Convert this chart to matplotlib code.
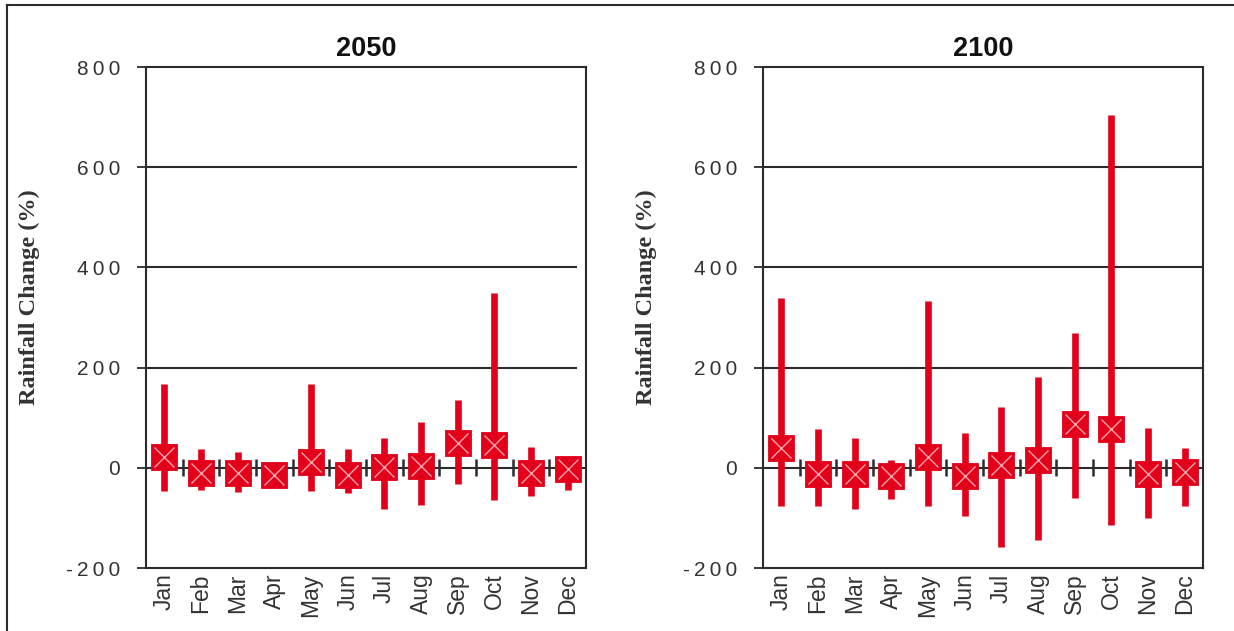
import matplotlib
matplotlib.use("Agg")
import matplotlib.pyplot as plt
from matplotlib.lines import Line2D
from matplotlib.ticker import FuncFormatter

# Monthly rainfall change (%) projections: central value and min/max range
months = ['Jan', 'Feb', 'Mar', 'Apr', 'May', 'Jun',
          'Jul', 'Aug', 'Sep', 'Oct', 'Nov', 'Dec']

mid_2050 = [21, -10, -10, -14, 11, -14, 1, 4, 49, 45, -10, -2]
low_2050 = [-47, -44, -48, -25, -47, -50, -83, -74, -33, -64, -57, -44]
high_2050 = [167, 38, 31, 0, 167, 38, 59, 91, 135, 349, 41, 20]

mid_2100 = [39, -12, -12, -16, 22, -16, 5, 15, 87, 77, -12, -9]
low_2100 = [-77, -77, -83, -63, -77, -97, -159, -145, -60, -115, -101, -77]
high_2100 = [338, 77, 59, 15, 332, 69, 121, 181, 270, 705, 80, 39]

RED = '#e2001a'
PINK = '#f4a3ab'
DARK = '#2b2b2b'
TEXT = '#333333'
SANS = ['Liberation Sans', 'DejaVu Sans']

dpi = 100
fig = plt.figure(figsize=(1234 / dpi, 631 / dpi), dpi=dpi)
fig.patch.set_facecolor('white')

# frame around the figure (top and left edges)
fig.add_artist(Line2D([7 / 1234, 1.0], [1 - 5 / 631, 1 - 5 / 631],
                      color=DARK, lw=1.5))
fig.add_artist(Line2D([7 / 1234, 7 / 1234], [0.0, 1 - 5 / 631],
                      color=DARK, lw=1.5))


def spaced(v, pos):
    # tick numbers are drawn with extra letter spacing
    return '\u2009'.join(f'{int(v)}')


def panel(rect, title, mid, low, high, grid_end):
    ax = fig.add_axes(rect)
    x = [i + 0.5 for i in range(len(months))]

    ax.set_xlim(0, 12)
    ax.set_ylim(-200, 800)

    # horizontal gridlines and the zero baseline
    ax.hlines([200, 400, 600], 0, grid_end, color=DARK, lw=1.5, zorder=1)
    ax.axhline(0, color=DARK, lw=1.5, zorder=1)
    ax.vlines(range(1, 13), -17, 17, color=DARK, lw=1.8, zorder=1)

    # range whiskers and central markers
    ax.vlines(x, low, high, color=RED, lw=4.8, zorder=3)
    ax.plot(x, mid, 's', ms=19, mfc=RED, mec=RED, mew=0.6, zorder=4)
    ax.plot(x, mid, 'x', ms=15, mec=PINK, mew=1.0, zorder=5)

    ax.set_title(title, fontsize=19.5, fontweight='bold', family=SANS,
                 pad=8, color='#111111')

    ax.set_yticks([-200, 0, 200, 400, 600, 800])
    ax.yaxis.set_major_formatter(FuncFormatter(spaced))
    ax.tick_params(axis='y', direction='out', length=6.5, width=1.3,
                   color=DARK, pad=12, labelsize=15, labelcolor=TEXT)
    for lab in ax.get_yticklabels():
        lab.set_family(SANS)

    ax.set_xticks(x)
    ax.set_xticklabels(months, rotation=90, fontsize=16.5, color=TEXT,
                       family=SANS)
    ax.tick_params(axis='x', length=0, pad=4)

    ax.set_ylabel('Rainfall Change (%)', fontsize=17.5, fontweight='bold',
                  family=['Liberation Serif', 'DejaVu Serif'], color=TEXT)
    ax.yaxis.set_label_coords(-0.24, 0.54)

    for s in ax.spines.values():
        s.set_color(DARK)
        s.set_linewidth(1.5)
    return ax


bottom = (631 - 568) / 631
height = 501 / 631
panel([146 / 1234, bottom, 440 / 1234, height], '2050',
      mid_2050, low_2050, high_2050, 11.75)
panel([763 / 1234, bottom, 440 / 1234, height], '2100',
      mid_2100, low_2100, high_2100, 12)

fig.savefig('out.png', dpi=dpi)
